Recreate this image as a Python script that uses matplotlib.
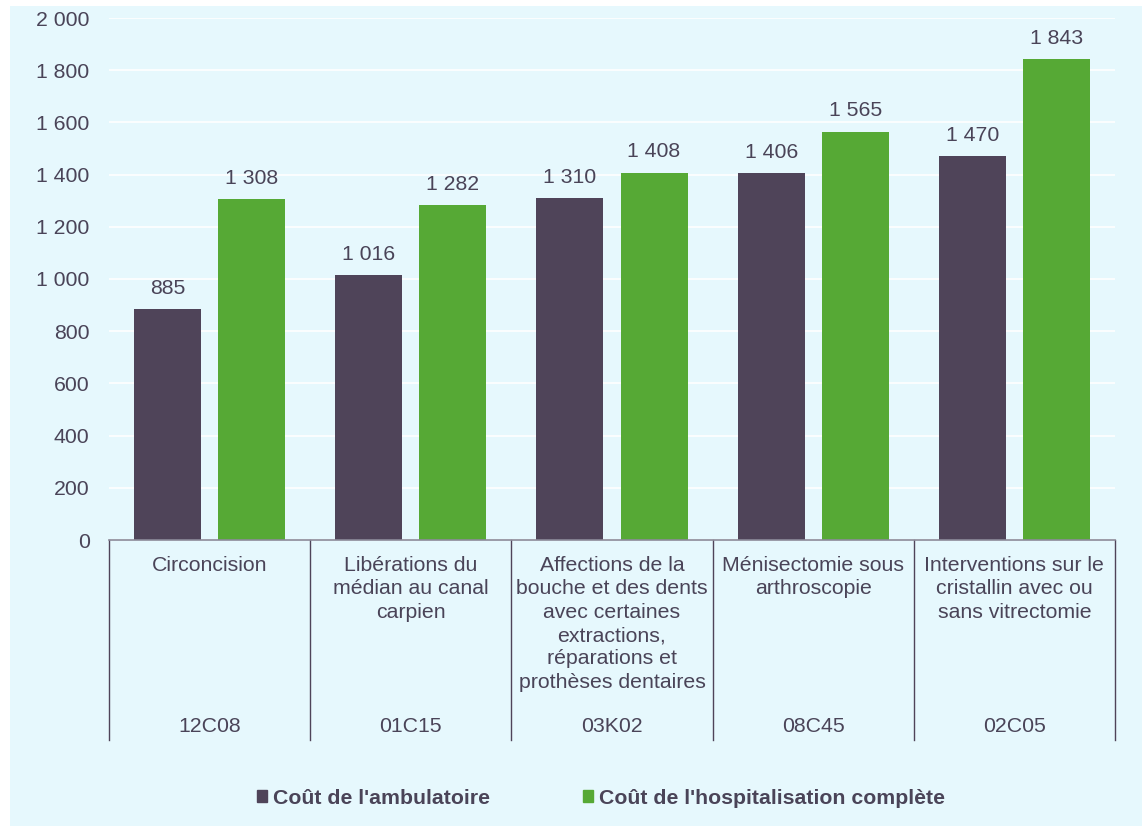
import matplotlib.pyplot as plt
from matplotlib.patches import Rectangle
import numpy as np

plt.rcParams['font.family'] = ['Liberation Sans', 'DejaVu Sans']

categories = ["Circoncision",
              "Libérations du\nmédian au canal\ncarpien",
              "Affections de la\nbouche et des dents\navec certaines\nextractions,\nréparations et\nprothèses dentaires",
              "Ménisectomie sous\narthroscopie",
              "Interventions sur le\ncristallin avec ou\nsans vitrectomie"]
codes = ["12C08", "01C15", "03K02", "08C45", "02C05"]
ambulatoire = [885, 1016, 1310, 1406, 1470]
hospitalisation = [1308, 1282, 1408, 1565, 1843]
series_names = ["Coût de l'ambulatoire", "Coût de l'hospitalisation complète"]
yticks = [0, 200, 400, 600, 800, 1000, 1200, 1400, 1600, 1800, 2000]

dark = '#4F4459'
green = '#56A935'
txt = '#4A4458'
bg = '#E6F8FD'
fs = 15.3

W, H = 1142, 826
fig = plt.figure(figsize=(W / 100, H / 100), dpi=100)
fig.patches.append(Rectangle((10 / W, -0.01), 1.01 - 10 / W, 1.01 - 6 / H, transform=fig.transFigure,
                             facecolor=bg, edgecolor='none', zorder=-10))

ax = fig.add_axes([109 / W, 1 - 540 / H, (1115 - 109) / W, (540 - 18) / H])
ax.set_facecolor('none')

def fmt(v):
    return f"{v:,}".replace(",", " ")

x = np.arange(len(categories))
bw = 0.333
off = 0.209
b1 = ax.bar(x - off, ambulatoire, bw, color=dark, zorder=3)
b2 = ax.bar(x + off, hospitalisation, bw, color=green, zorder=3)
for bars, vals in ((b1, ambulatoire), (b2, hospitalisation)):
    for r, v in zip(bars, vals):
        ax.annotate(fmt(v), (r.get_x() + r.get_width() / 2, v), xytext=(0, 8),
                    textcoords='offset points', ha='center', va='bottom',
                    fontsize=fs, color=txt)

ax.set_xlim(-0.5, len(categories) - 0.5)
ax.set_ylim(0, 2000)
ax.set_yticks(yticks)
ax.set_yticklabels([fmt(t) for t in yticks])
ax.tick_params(axis='y', length=0, pad=14, labelsize=fs, labelcolor=txt)
ax.set_xticks([])
ax.grid(axis='y', color='white', linewidth=1.2, zorder=0)
for s in ['top', 'right', 'left']:
    ax.spines[s].set_visible(False)
ax.spines['bottom'].set_color('#8C8A99')
ax.spines['bottom'].set_linewidth(1.2)
ax.spines['bottom'].set_zorder(4)

tr = ax.get_xaxis_transform()
depth = (740 - 540) / (540 - 18)
for i in range(len(categories) + 1):
    ax.plot([i - 0.5, i - 0.5], [0, -depth], transform=tr, color='#4F4459',
            linewidth=1, clip_on=False)
for i, (c, code) in enumerate(zip(categories, codes)):
    ax.text(i, -16 / 522, c, transform=tr, ha='center', va='top', fontsize=fs,
            color=txt, linespacing=1.29)
    ax.text(i, -187 / 522, code, transform=tr, ha='center', va='center', fontsize=fs,
            color=txt)

handles = [Rectangle((0, 0), 1, 1, color=dark), Rectangle((0, 0), 1, 1, color=green)]
fig.legend(handles, series_names, loc='center', bbox_to_anchor=(601 / W, 1 - 798 / H),
           ncol=2, frameon=False, handlelength=0.47, handleheight=0.47, handletextpad=0.25,
           columnspacing=4.4, prop={'weight': 'bold', 'size': fs}, labelcolor=txt)

fig.savefig('out.png', dpi=100)
